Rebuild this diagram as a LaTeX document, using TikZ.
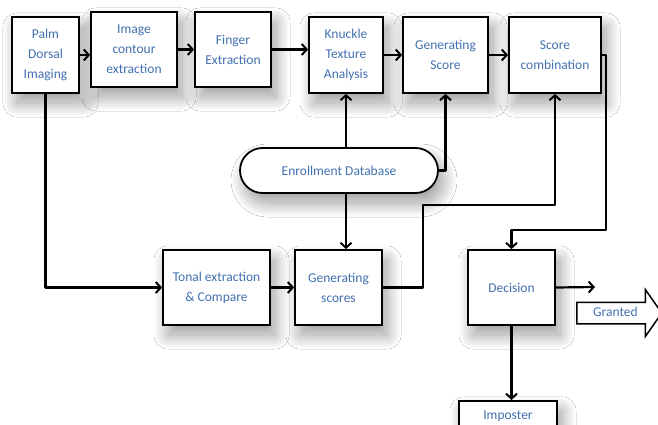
\documentclass[tikz,border=0pt]{standalone}
\usepackage{fontspec}
\setmainfont{Carlito}
\usetikzlibrary{arrows.meta,shapes.arrows,shadows.blur}

\definecolor{labelblue}{RGB}{66,112,176}

\tikzset{
  procbox/.style={draw=black,line width=1.8pt,fill=white,align=center,
    text=labelblue,font=\fontsize{13.5}{20}\selectfont,inner sep=0pt,
    blur shadow={shadow xshift=5pt,shadow yshift=-10pt,shadow blur radius=14pt,
      shadow blur steps=30,shadow opacity=40}},
  flow/.style={line width=2.2pt,line join=round}
}

\begin{document}
\begin{tikzpicture}[x=1pt,y=-1pt,>={Straight Barb[length=5pt,width=11pt,line width=2pt]}]
      \clip (0,0) rectangle (658,425);
      \fill[white] (0,0) rectangle (658,425);

      % top row
      \node[procbox,minimum width=67pt,minimum height=76pt] (palm) at (45.5,55) {Palm\\Dorsal\\Imaging};
      \node[procbox,minimum width=86pt,minimum height=75pt] (contour) at (134,49.5) {Image\\contour\\extraction};
      \node[procbox,minimum width=76pt,minimum height=75pt] (finger) at (233,49.5) {Finger\\Extraction};
      \node[procbox,minimum width=74pt,minimum height=76pt] (knuckle) at (346,55) {Knuckle\\Texture\\Analysis};
      \node[procbox,minimum width=85pt,minimum height=76pt] (genscore) at (445.5,55) {Generating\\Score};
      \node[procbox,minimum width=92pt,minimum height=76pt] (scorecomb) at (555,55) {Score\\combination};

      % database
      \node[procbox,rounded corners=22.5pt,minimum width=198pt,minimum height=45pt] (enroll) at (339,170.5) {Enrollment Database};

      % bottom row
      \node[procbox,minimum width=107pt,minimum height=75pt] (tonal) at (216.5,287.5) {Tonal extraction\\\& Compare};
      \node[procbox,minimum width=87pt,minimum height=75pt] (genscores) at (338.5,287.5) {Generating\\scores};
      \node[procbox,minimum width=87pt,minimum height=75pt] (decision) at (511.5,287.5) {Decision};
      \node[procbox,anchor=north,minimum width=98pt,text height=9pt,text depth=30pt,inner ysep=10pt] (imposter) at (508,400) {Imposter};
      \node[single arrow,draw=black,line width=1.5pt,fill=white,text=labelblue,
        font=\fontsize{13.5}{15}\selectfont,minimum height=85pt,minimum width=45pt,
        single arrow head extend=12.5pt,single arrow tip angle=110,
        text height=8.5pt,text depth=2.5pt,inner ysep=4.5pt,inner xsep=2pt] (granted) at (615.5,313) {Granted};

      \coordinate (combturn) at (606,230);
      \coordinate (scoreturn) at (423,205);
      \coordinate (grantout) at (595,287);

      \draw[flow,->] (palm.east) -- (palm.east -| contour.west);
      \draw[flow,->] (contour) -- (finger);
      \draw[flow,->] (finger.east) -- (finger.east -| knuckle.west);
      \draw[flow,->] (knuckle) -- (genscore);
      \draw[flow,->] (genscore) -- (scorecomb);
      \draw[flow,->] (scorecomb.east) -| (combturn) -| (decision.north);

      \draw[flow,->] (palm.south) |- (tonal.west);
      \draw[flow,->] (knuckle.south |- enroll.north) -- (knuckle.south);
      \draw[flow,->] (enroll.east) -| (genscore.south);
      \draw[flow,->] (enroll.south -| knuckle.south) -- (genscores.north -| knuckle.south);

      \draw[flow,->] (tonal) -- (genscores);
      \draw[flow,->] (genscores.east) -| (scoreturn) -| (scorecomb.south);
      \draw[flow,->] (decision.east) -- (grantout);
      \draw[flow,->] (decision.south) -- (decision.south |- imposter.north);
\end{tikzpicture}
\end{document}
